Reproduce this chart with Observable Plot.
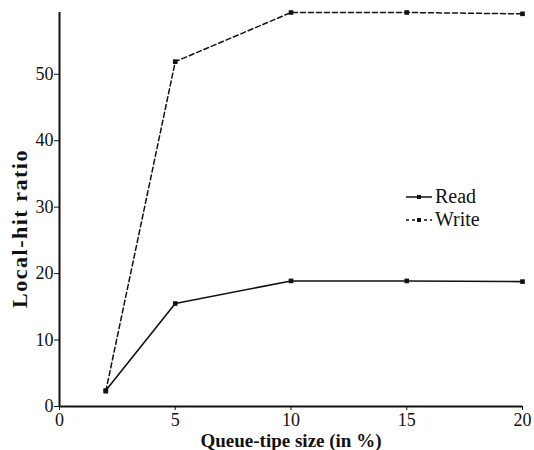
<!DOCTYPE html>
<html>
<head>
<meta charset="utf-8">
<script src="https://cdn.jsdelivr.net/npm/d3@7"></script>
<script src="https://cdn.jsdelivr.net/npm/@observablehq/plot@0.6"></script>
<style>
  html, body { margin: 0; padding: 0; background: #fff; }
  #wrap { position: relative; width: 534px; height: 450px; }
  #chart svg, #chart svg text { font-family: "Liberation Serif", "DejaVu Serif", serif !important; }
  #legend { position: absolute; left: 406px; top: 185px; font-family: "Liberation Serif", "DejaVu Serif", serif; font-size: 20px; color: #111; line-height: 23px; }
  #legend div { display: flex; align-items: center; height: 23px; }
  #legend svg { margin-right: 3px; }
</style>
</head>
<body>
<div id="wrap">
  <div id="chart"></div>
  <div id="legend"></div>
</div>
<script>
// Queue-tipe size (%) on the x axis
const sizes = [2, 5, 10, 15, 20];
// Local-hit ratio for each access type
const readRatio = [2.4, 15.5, 18.9, 18.9, 18.8];
const writeRatio = [2.3, 51.9, 59.3, 59.3, 59.1];
const seriesNames = ["Read", "Write"];
const xTicks = [0, 5, 10, 15, 20];
const yTicks = [0, 10, 20, 30, 40, 50];
const xTitle = "Queue-tipe size (in %)";
const yTitle = "Local-hit ratio";

const rows = [];
sizes.forEach((s, i) => {
  rows.push({size: s, ratio: readRatio[i], series: seriesNames[0]});
});
sizes.forEach((s, i) => {
  rows.push({size: s, ratio: writeRatio[i], series: seriesNames[1]});
});
const readRows = rows.filter(d => d.series === "Read");
const writeRows = rows.filter(d => d.series === "Write");

const serif = "'Liberation Serif', 'DejaVu Serif', serif";

const chart = Plot.plot({
  width: 534,
  height: 450,
  marginLeft: 59,
  marginRight: 12,
  marginTop: 12,
  marginBottom: 44,
  style: {fontFamily: serif, fontSize: "18px", color: "#111", background: "#fff"},
  x: {domain: [0, 20], label: null},
  y: {domain: [0, 59.3], label: null},
  marks: [
    Plot.axisX({ticks: xTicks, tickSize: 4, tickPadding: 3, fontSize: 18, fontVariant: "normal", label: null}),
    Plot.axisY({ticks: yTicks, tickSize: 5, tickPadding: 1, fontSize: 18, fontVariant: "normal", label: null}),
    Plot.ruleY([0], {stroke: "#111", strokeWidth: 2}),
    Plot.ruleX([0], {stroke: "#111", strokeWidth: 2}),
    Plot.line(writeRows, {x: "size", y: "ratio", stroke: "#111", strokeWidth: 1.5, strokeDasharray: "5,3"}),
    Plot.line(readRows, {x: "size", y: "ratio", stroke: "#111", strokeWidth: 1.6}),
    Plot.dot(rows, {x: "size", y: "ratio", r: 2.6, fill: "#111", stroke: "none", symbol: "square"}),
    Plot.text([xTitle], {frameAnchor: "bottom", textAnchor: "middle", lineAnchor: "bottom", dy: 40, fontSize: 19, fontWeight: "bold", fill: "#111"}),
    Plot.text([yTitle], {frameAnchor: "left", textAnchor: "middle", lineAnchor: "middle", dx: -40, dy: 19, rotate: -90, fontSize: 22, fontWeight: "bold", fill: "#111"})
  ]
});
// Loosen the tracking of the vertical axis title
d3.select(chart).selectAll("text")
  .filter(function () { return this.textContent === yTitle; })
  .style("letter-spacing", "1.5px");
document.getElementById("chart").appendChild(chart);

// Legend: line samples with a marker, followed by the series name
const legend = document.getElementById("legend");
const dashes = {Read: null, Write: "3,3"};
seriesNames.forEach(name => {
  const row = document.createElement("div");
  const svg = d3.create("svg").attr("width", 26).attr("height", 12);
  svg.append("line").attr("x1", 0).attr("x2", 26).attr("y1", 6).attr("y2", 6)
    .attr("stroke", "#111").attr("stroke-width", 1.5)
    .attr("stroke-dasharray", dashes[name]);
  svg.append("rect").attr("x", 11).attr("y", 4).attr("width", 4).attr("height", 4).attr("fill", "#111");
  row.appendChild(svg.node());
  const t = document.createElement("span");
  t.textContent = name;
  row.appendChild(t);
  legend.appendChild(row);
});
</script>
</body>
</html>
